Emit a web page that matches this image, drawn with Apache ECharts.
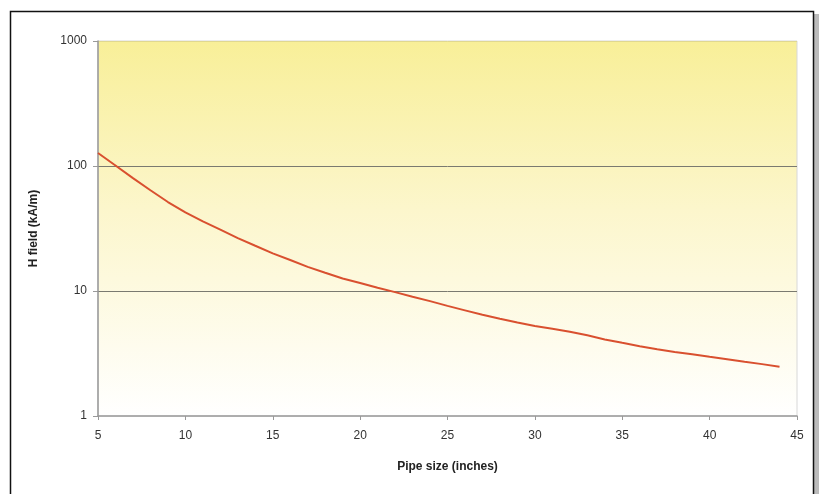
<!DOCTYPE html>
<html>
<head>
<meta charset="utf-8">
<script src="https://cdn.jsdelivr.net/npm/echarts@6/dist/echarts.min.js"></script>
<style>
html,body{margin:0;padding:0;background:#fff;}
#c{width:820px;height:494px;}
</style>
</head>
<body>
<div id="c"></div>
<script>
var pipeSize = [5,6,7,8,9,10,11,12,13,14,15,16,17,18,19,20,21,22,23,24,25,26,27,28,29,30,31,32,33,34,35,36,37,38,39,40,41,42,43,44];
var hField = [127,101,80,64,51.5,42.5,36,31,26.5,23,20,17.7,15.6,14,12.6,11.6,10.6,9.8,9.0,8.3,7.6,7.0,6.45,6.0,5.6,5.25,4.98,4.72,4.42,4.1,3.85,3.62,3.42,3.25,3.12,2.98,2.85,2.72,2.6,2.48];
var xTicks = [5,10,15,20,25,30,35,40,45];
var yTicks = [1,10,100,1000];

var chart = echarts.init(document.getElementById('c'));
var font = 'Liberation Sans, Arial, sans-serif';
chart.setOption({
  animation: false,
  backgroundColor: '#fff',
  graphic: [
    {type:'rect', shape:{x:814,y:14,width:5,height:490}, style:{fill:'#bbb'}, z:-2},
    {type:'rect', shape:{x:10.5,y:11.5,width:803,height:500}, style:{fill:'#fff', stroke:'#111', lineWidth:1.5}, z:-1}
  ],
  grid: {
    left: 98, right: 23, top: 41, bottom: 78,
    show: true,
    borderColor: '#d8d8d8',
    borderWidth: 1,
    backgroundColor: {
      type: 'linear', x: 0, y: 0, x2: 0, y2: 1,
      colorStops: [
        {offset: 0, color: '#f8ef98'},
        {offset: 0.45, color: '#fcf6cc'},
        {offset: 1, color: '#ffffff'}
      ]
    }
  },
  xAxis: {
    type: 'value', min: 5, max: 45, interval: 5,
    name: 'Pipe size (inches)', nameLocation: 'middle', nameGap: 45,
    nameTextStyle: {fontFamily: font, fontSize: 12, fontWeight: 'bold', color: '#222'},
    axisLine: {show: true, lineStyle: {color: '#999', width: 1.5}},
    axisTick: {show: true, length: 4, lineStyle: {color: '#999'}},
    axisLabel: {fontFamily: font, fontSize: 12, color: '#333', margin: 14,
      formatter: function(v){ return xTicks.indexOf(v) >= 0 ? String(v) : ''; }},
    splitLine: {show: false}
  },
  yAxis: {
    type: 'log', logBase: 10, min: 1, max: 1000,
    name: 'H field (kA/m)', nameLocation: 'middle', nameGap: 58,
    nameTextStyle: {fontFamily: font, fontSize: 12, fontWeight: 'bold', color: '#222'},
    axisLine: {show: true, lineStyle: {color: '#999', width: 1.5}},
    axisTick: {show: true, length: 5, lineStyle: {color: '#999'}},
    axisLabel: {fontFamily: font, fontSize: 12, color: '#333', margin: 11,
      formatter: function(v){ return yTicks.indexOf(Math.round(v)) >= 0 ? String(Math.round(v)) : ''; }},
    splitLine: {show: true, lineStyle: {color: ['rgba(0,0,0,0)', '#7a7a70', '#7a7a70', '#e0d890'], width: 1}},
    minorTick: {show: false}
  },
  series: [{
    type: 'line',
    data: pipeSize.map(function(x, i){ return [x, hField[i]]; }),
    showSymbol: false,
    symbol: 'none',
    lineStyle: {color: '#d9502f', width: 2},
    smooth: false
  }]
});
</script>
</body>
</html>
